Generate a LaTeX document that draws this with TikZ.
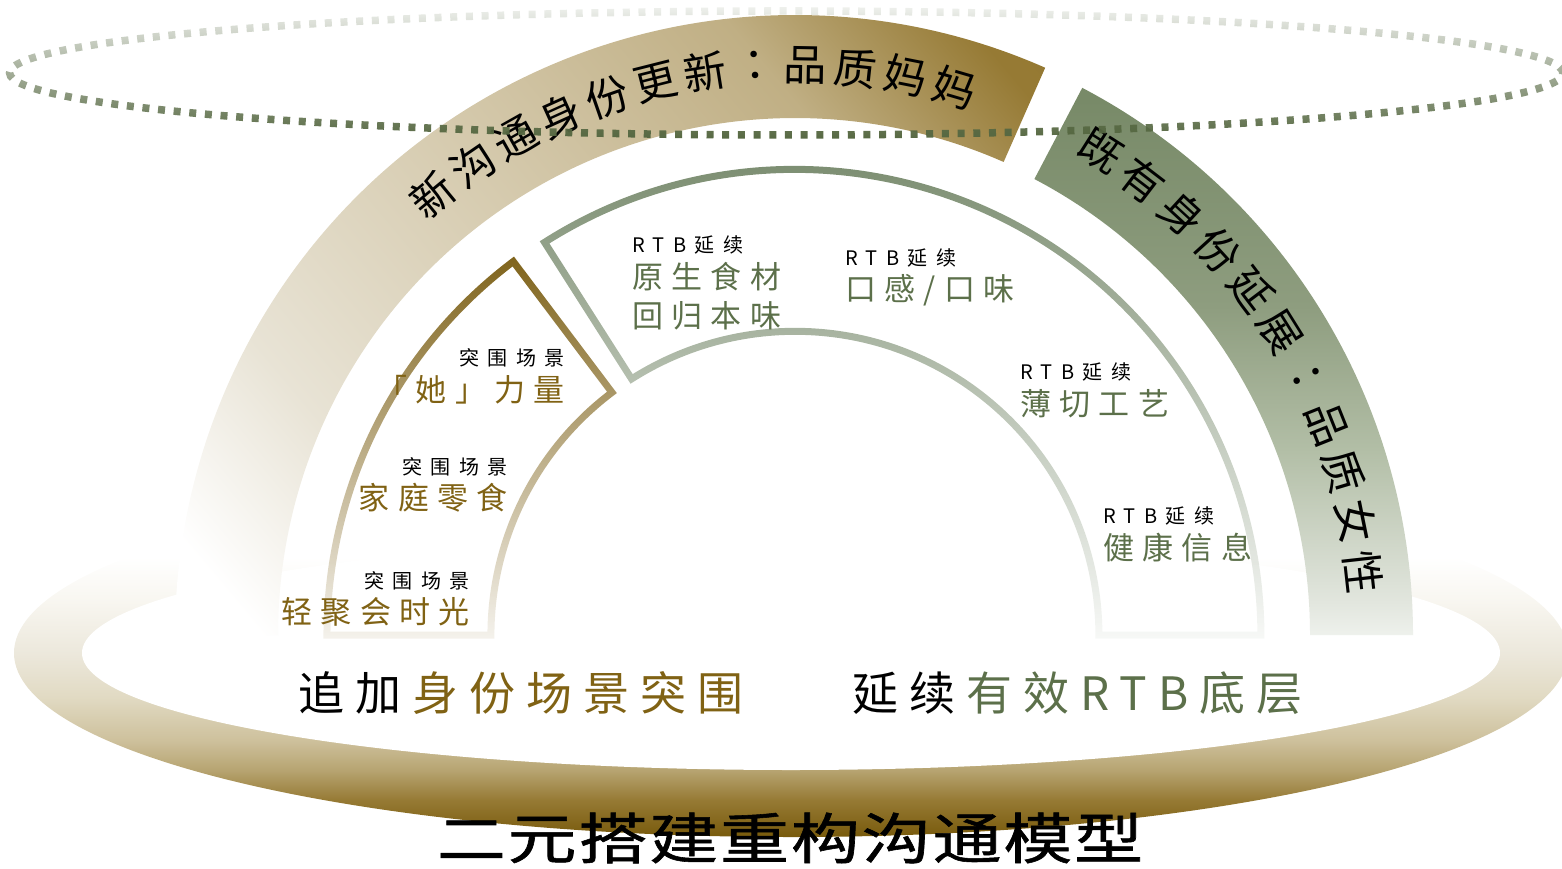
\documentclass[tikz,border=0pt]{standalone}
\usepackage{fontspec}
\usetikzlibrary{fadings}
\setmainfont{Noto Sans CJK SC}
\newfontfamily\cjkjp{Noto Sans CJK JP}

\definecolor{goldtxt}{RGB}{128,98,20}
\definecolor{greentxt}{RGB}{92,112,74}
\definecolor{goldline}{RGB}{128,100,28}
\definecolor{greenline}{RGB}{108,128,96}
\definecolor{dotgreen}{RGB}{86,104,66}
\definecolor{tanA}{RGB}{232,227,213}
\definecolor{tanB}{RGB}{214,203,175}
\definecolor{tanC}{RGB}{192,175,132}
\definecolor{tanD}{RGB}{150,122,52}
\definecolor{tanE}{RGB}{143,115,42}
\definecolor{gA}{RGB}{238,241,236}
\definecolor{gB}{RGB}{226,230,222}
\definecolor{gC}{RGB}{178,190,166}
\definecolor{gD}{RGB}{142,157,127}
\definecolor{gE}{RGB}{120,138,104}
\definecolor{rA}{RGB}{120,90,12}
\definecolor{rB}{RGB}{150,122,52}
\definecolor{rC}{RGB}{182,163,112}
\definecolor{rD}{RGB}{205,192,155}
\definecolor{rE}{RGB}{225,218,195}
\definecolor{rF}{RGB}{236,232,220}
\definecolor{rG}{RGB}{248,246,240}

\pgfdeclarehorizontalshading{tanshade}{100bp}{color(0bp)=(white); color(19bp)=(white); color(31bp)=(tanA); color(49bp)=(tanB); color(68bp)=(tanC); color(80bp)=(tanD); color(100bp)=(tanE)}
\pgfdeclareverticalshading{greenshade}{100bp}{color(0bp)=(gA); color(25bp)=(gA); color(28bp)=(gB); color(42bp)=(gC); color(55bp)=(gD); color(74bp)=(gE); color(100bp)=(gE)}
\pgfdeclareverticalshading{ringshade}{100bp}{color(0bp)=(rA); color(25bp)=(rA); color(30bp)=(rB); color(34bp)=(rC); color(38bp)=(rD); color(44bp)=(rE); color(50bp)=(rF); color(57bp)=(rG); color(63bp)=(white); color(100bp)=(white)}

\tikzfading[name=fadegold, top color=transparent!0, middle color=transparent!30, bottom color=transparent!92]
\tikzfading[name=fadegreen, top color=transparent!0, middle color=transparent!25, bottom color=transparent!95]
\tikzfading[name=fadedots, top color=transparent!90, middle color=transparent!45, bottom color=transparent!0]

\begin{document}
\begin{tikzpicture}[x=1pt,y=1pt,
  arctext/.style={font=\fontsize{43}{43}\selectfont, inner sep=0, text=black},
  smalllab/.style={font=\fontsize{20}{20}\selectfont\addfontfeature{LetterSpace=42}, inner sep=0, text=black},
  goldlab/.style={font=\fontsize{31}{31}\selectfont\addfontfeature{LetterSpace=27}, inner sep=0, text=goldtxt},
  greenlab/.style={font=\fontsize{31}{31}\selectfont\addfontfeature{LetterSpace=27}, inner sep=0, text=greentxt},
  sublab/.style={font=\fontsize{46}{46}\selectfont\addfontfeature{LetterSpace=24}, inner sep=0, text=black},
  titlelab/.style={font=\fontsize{55}{55}\selectfont\addfontfeature{LetterSpace=3,FakeBold=1}, inner sep=0, text=black, xscale=1.25},
  sector/.style={line width=7, line join=miter},
]
\useasboundingbox (0,0) rectangle (1562,-869);
\clip (0,0) rectangle (1562,-869);
% bottom platform ring
\shade[shading=ringshade] (791,-653) ellipse[x radius=777, y radius=184];
\fill[white] (791,-653) ellipse[x radius=709, y radius=117];
\begin{scope}[shift={(795,-635)}]
 \shade[shading=tanshade, shading angle=40] (180:620) arc[start angle=180, end angle=66.2, radius=620] -- (66.2:517) arc[start angle=66.2, end angle=180, radius=517] -- cycle;
 \shade[shading=greenshade] (62.3:618) arc[start angle=62.3, end angle=0, radius=618] -- (0:515) arc[start angle=0, end angle=62.3, radius=515] -- cycle;
 \draw[sector, goldline, path fading=fadegold] (180:468) arc[start angle=180, end angle=127, radius=468] -- (127:304) arc[start angle=127, end angle=180, radius=304] -- cycle;
 \draw[sector, greenline, path fading=fadegreen] (122.5:466) arc[start angle=122.5, end angle=0, radius=466] -- (0:304) arc[start angle=0, end angle=122.5, radius=304] -- cycle;
 \foreach \ch [count=\i] in {新,沟,通,身,份,更,新,{\cjkjp ：},品,质,妈,妈}{
   \pgfmathsetmacro\ang{129.5-5.07*(\i-1)}
   \node[arctext, rotate=\ang-90] (t\i) at (\ang:570) {\ch};
 }
 \foreach \ch [count=\i] in {既,有,身,份,延,展,{\cjkjp ：},品,质,女,性}{
   \pgfmathsetmacro\ang{57.7-5.14*(\i-1)}
   \node[arctext, rotate=\ang-90] (g\i) at (\ang:572) {\ch};
 }
\end{scope}
% scene labels (gold)
\node[smalllab, anchor=east] (s1) at (565,-358) {突围场景};
\node[goldlab, anchor=east] (l1) at (565,-390) {「她」力量};
\node[smalllab, anchor=east] (s2) at (508,-467) {突围场景};
\node[goldlab, anchor=east] (l2) at (508,-498) {家庭零食};
\node[smalllab, anchor=east] (s3) at (470,-581) {突围场景};
\node[goldlab, anchor=east] (l3) at (470,-612) {轻聚会时光};
% RTB labels (green)
\node[smalllab, anchor=west] (r1) at (632,-245) {RTB延续};
\node[greenlab, anchor=west] (m1) at (632,-277) {原生食材};
\node[greenlab, anchor=west] (m1b) at (632,-316) {回归本味};
\node[smalllab, anchor=west] (r2) at (845,-258) {RTB延续};
\node[greenlab, anchor=west] (m2) at (845,-290) {口感/口味};
\node[smalllab, anchor=west] (r3) at (1020,-372) {RTB延续};
\node[greenlab, anchor=west] (m3) at (1020,-404) {薄切工艺};
\node[smalllab, anchor=west] (r4) at (1103,-516) {RTB延续};
\node[greenlab, anchor=west] (m4) at (1103,-548) {健康信息};
% subtitles
\node[sublab, anchor=west] (subL) at (298,-693) {追加\hspace{0.24em}\textcolor{goldtxt}{身份场景突围}};
\node[sublab, anchor=west] (subR) at (852,-693) {延续\hspace{0.24em}\textcolor{greentxt}{有效RTB底层}};
% dotted ellipse
\draw[dotgreen, line width=7.5, dash pattern=on 7 off 8.7, path fading=fadedots] (787,-73) ellipse[x radius=777, y radius=62];
% title
\node[titlelab] (title) at (790,-838) {二元搭建重构沟通模型};
\end{tikzpicture}
\end{document}
